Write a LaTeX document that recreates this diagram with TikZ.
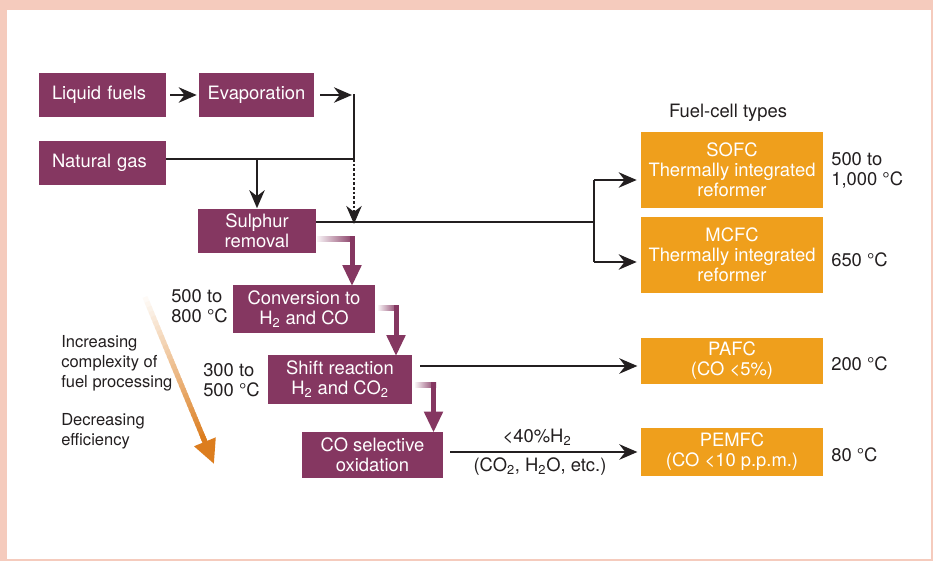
\documentclass[tikz,border=0pt]{standalone}
\usepackage{fontspec}
\setmainfont{TeX Gyre Heros}
\usetikzlibrary{arrows.meta,calc}
\definecolor{framepink}{RGB}{245,203,189}
\definecolor{procpurple}{RGB}{133,55,97}
\definecolor{cellorange}{RGB}{239,159,28}
\definecolor{arroworange}{RGB}{220,125,30}
\definecolor{inkgray}{RGB}{35,31,32}
\tikzset{
  every node/.style={font=\fontsize{13.8pt}{15pt}\selectfont, text=inkgray, inner sep=0pt},
  procbox/.style={fill=procpurple, text=white, align=center},
  cellbox/.style={fill=cellorange, text=white, align=center, minimum width=136.5pt},
  sidenote/.style={anchor=west, align=left, font=\fontsize{12.4pt}{15pt}\selectfont},
  flow/.style={draw=inkgray, line width=1.9pt},
  flowarr/.style={flow, -{Stealth[length=13.5pt,width=11.5pt]}},
}
\begin{document}
\begin{tikzpicture}[x=0.75pt,y=0.75pt,yscale=-1,xscale=1]
    \useasboundingbox (0,0) rectangle (933,561);
    % Frame
    \fill[framepink] (0,0) rectangle (933,561);
    \fill[white] (7,10) rectangle (931,559);

    % Process boxes
    \node[procbox, minimum width=95.25pt, minimum height=33pt, text width=75.75pt, align=left] (lf) at (102.5,95) {Liquid fuels};
    \node[procbox, minimum width=86.25pt, minimum height=33pt] (ev) at (256.5,95) {Evaporation};
    \node[procbox, minimum width=95.25pt, minimum height=33pt, text width=75.75pt, align=left] (ng) at (102.5,162.5) {Natural gas};
    \node[procbox, minimum width=88.5pt, minimum height=33pt] (sr) at (257,230.5) {Sulphur\\removal};
    \node[procbox, minimum width=106.5pt, minimum height=36pt] (conv) at (304,309) {Conversion to\\H\textsubscript{2} and CO};
    \node[procbox, minimum width=108pt, minimum height=36.75pt] (shift) at (340,379.5) {Shift reaction\\H\textsubscript{2} and CO\textsubscript{2}};
    \node[procbox, minimum width=105.75pt, minimum height=34.5pt] (cosel) at (372.5,454.5) {CO selective\\oxidation};

    % Fuel-cell boxes
    \node (fctypes) at (728,113) {Fuel-cell types};
    \node[cellbox, minimum height=57pt] (sofc) at (732,170) {SOFC\\Thermally integrated\\reformer};
    \node[cellbox, minimum height=57pt] (mcfc) at (732,255) {MCFC\\Thermally integrated\\reformer};
    \node[cellbox, minimum height=34.5pt] (pafc) at (732,361) {PAFC\\(CO <5\%)};
    \node[cellbox, minimum height=36pt] (pemfc) at (732,452) {PEMFC\\(CO <10 p.p.m.)};

    % Temperatures
    \node[anchor=west, align=left] (tsofc) at (831,170) {500 to\\1,000 °C};
    \node[anchor=west] (tmcfc) at (831,260) {650 °C};
    \node[anchor=west] (tpafc) at (831,364) {200 °C};
    \node[anchor=west] (tpemfc) at (831,455) {80 °C};
    \node[anchor=west, align=left] (tconv) at (171,306.5) {500 to\\800 °C};
    \node[anchor=west, align=left] (tshift) at (203,380) {300 to\\500 °C};

    % Side notes
    \node[sidenote] (complex) at (61,363) {Increasing\\complexity of\\fuel processing};
    \node[sidenote] (effic) at (61,431) {Decreasing\\efficiency};

    % Feed lines
    \coordinate (evout) at (354,95);
    \coordinate (gasjoin) at (354,159);
    \coordinate (srjoin) at (354,222);
    \coordinate (fork) at (594,222);
    \coordinate (forkA) at (594,180);
    \coordinate (forkB) at (594,262);
    \coordinate (pafcin) at (420,366);
    \coordinate (pemin) at (450,452);

    \draw[flowarr] ([xshift=3pt]lf.east) -- ([xshift=-1.5pt]ev.west);
    \draw[flowarr] ([xshift=4.5pt]ev.east) -- ([xshift=-1.5pt]evout);
    \draw[flow] (ng.east |- gasjoin) -- (gasjoin) -- ([yshift=-1pt]evout);
    \draw[flowarr] (sr.north |- gasjoin) -- (sr.north);
    \draw[flowarr, dash pattern=on 1.9pt off 1.6pt] (gasjoin) -- ([yshift=1.5pt]srjoin);

    % To the high-temperature cells
    \draw[flow] (sr.east |- srjoin) -- (fork);
    \draw[flow] (forkA) -- (forkB);
    \draw[flowarr, shorten >=3pt] (forkA) -- (forkA -| sofc.west);
    \draw[flowarr, shorten >=3pt] (forkB) -- (forkB -| mcfc.west);

    % To the low-temperature cells
    \draw[flowarr, shorten >=2.5pt] (pafcin) -- (pafcin -| pafc.west);
    \draw[flowarr, shorten >=2.5pt] (pemin) -- (pemin -| pemfc.west);
    \node (h2lbl) at (537,437) {<40\%H\textsubscript{2}};
    \node (restlbl) at (540,467) {(CO\textsubscript{2}, H\textsubscript{2}O, etc.)};

    % Processing chain
    \foreach \dst/\xs/\ya/\xb in {conv/317/238.5/352, shift/378/307.5/396, cosel/415/384.5/433.5}{
      \coordinate (bend) at (\xb,\ya);
      \shade[left color=procpurple!6, right color=procpurple] (\xs,\ya-2.5) rectangle (\xb+2.5,\ya+2.5);
      \draw[procpurple, line width=3.75pt, -{Triangle[width=13.5pt,length=15.75pt]}] (\xb,\ya-2.5) -- ([yshift=1pt]bend |- \dst.north);
    }

    % Trend arrow
    \coordinate (trendA) at (145,297);
    \coordinate (trendB) at (205,442);
    \coordinate (trendC) at (214,464);
    \foreach \i in {0,...,29}{
      \pgfmathtruncatemacro\pc{4+96*\i/29}
      \pgfmathsetmacro\ta{\i/30}
      \pgfmathsetmacro\tb{(\i+1.6)/30}
      \draw[line width=3.75pt, draw=arroworange!\pc!white] ($(trendA)!\ta!(trendB)$) -- ($(trendA)!\tb!(trendB)$);
    }
    \draw[arroworange, line width=3.75pt, -{Triangle[width=16.5pt,length=18pt]}] ($(trendA)!0.95!(trendB)$) -- (trendC);

\end{tikzpicture}
\end{document}
